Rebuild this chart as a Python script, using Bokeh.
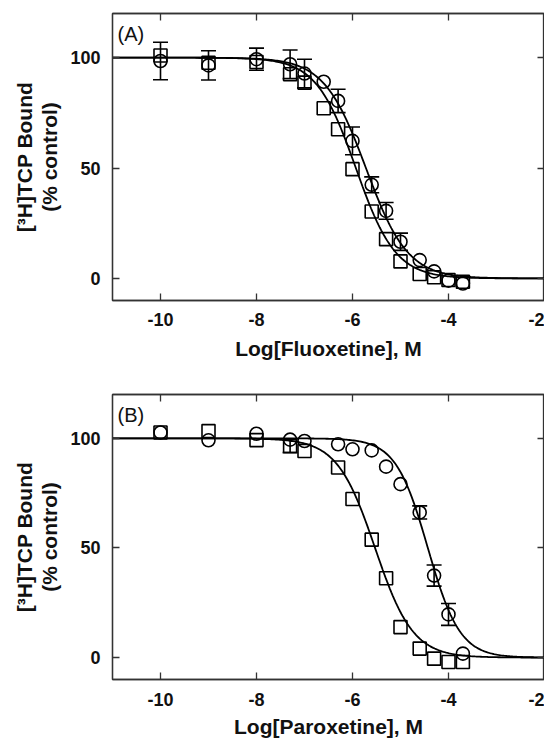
import numpy as np
from bokeh.plotting import figure
from bokeh.layouts import column
from bokeh.models import (ColumnDataSource, Whisker, Label, LinearAxis, FixedTicker,
                          Range1d, TeeHead)
from bokeh.embed import file_html
from bokeh.resources import INLINE

# ---------------- data ----------------
x_ticks = [-10, -8, -6, -4, -2]
x_tick_labels = ["-10", "-8", "-6", "-4", "-2"]
y_ticks = [0, 50, 100]
y_tick_labels = ["0", "50", "100"]

# Panel A: Fluoxetine
fluox_x = [-10, -9, -8, -7.3, -7, -6.6, -6.3, -6, -5.6, -5.3, -5, -4.6, -4.3, -4, -3.7]
fluox_sq = [101, 97.7, 98, 92.5, 88.7, 77.1, 67.6, 49.5, 30.3, 17.8, 7.7, 2.0, 0.5, -0.7, -1.5]
fluox_sq_err = [0, 0, 0, 0, 0, 0, 0, 0, 0, 0, 0, 0, 0, 0, 0]
fluox_ci = [98.5, 96.5, 99.3, 97, 92.8, 89.1, 80.4, 62.3, 42.4, 30.6, 16.6, 8.3, 3.2, -1.0, -2.3]
fluox_ci_err = [8.5, 6.6, 5, 6.5, 6.5, 0, 5.3, 6.3, 3.6, 3.8, 3.9, 0, 0, 0, 0]
# fitted curve parameters (log IC50, Hill slope)
fluox_sq_fit = (-5.93, 1.05)
fluox_ci_fit = (-5.72, 1.0)

# Panel B: Paroxetine
parox_x = [-10, -9, -8, -7.3, -7, -6.3, -6, -5.6, -5.3, -5, -4.6, -4.3, -4, -3.7]
parox_sq = [102.7, 103.3, 99.2, 96.5, 94.2, 86.7, 72.3, 53.8, 36.2, 13.9, 4.1, -0.5, -2.0, -2.0]
parox_sq_err = [0, 0, 0, 3, 0, 0, 0, 0, 0, 0, 0, 0, 0, 0]
parox_ci = [102.7, 99.1, 102.1, 99.4, 98.8, 97.3, 95.0, 94.5, 87.1, 79.1, 66.2, 37.4, 19.7, 1.8]
parox_ci_err = [0, 0, 0, 0, 0, 0, 0, 0, 0, 0, 3, 4.8, 5, 0]
parox_sq_fit = (-5.53, 1.1)
parox_ci_fit = (-4.43, 1.3)

FIT_TOP, FIT_BOTTOM = 100.0, 0.0

X_START, X_END = -11.0, -2.0
Y_START, Y_END = -10.0, 120.0

FONT = "Liberation Sans"
AXIS_COLOR = "#333333"
TEXT_COLOR = "#111111"


def hill(x, log_ic50, slope):
    x = np.asarray(x)
    return FIT_BOTTOM + (FIT_TOP - FIT_BOTTOM) / (1.0 + 10 ** (slope * (x - log_ic50)))


def style_axis(ax, ticks, show_labels=True):
    ax.ticker = FixedTicker(ticks=ticks)
    ax.axis_line_color = AXIS_COLOR
    ax.axis_line_width = 1.3
    ax.major_tick_line_color = AXIS_COLOR
    ax.major_tick_line_width = 1.3
    ax.major_tick_in = 7
    ax.major_tick_out = 0
    ax.minor_tick_line_color = None
    if not show_labels:
        ax.major_label_text_color = None
        ax.major_label_text_font_size = "1px"
        ax.major_label_standoff = 0


def make_panel(tag, xlabel, xs, sq, sq_err, ci, ci_err, sq_fit, ci_fit,
               height, border_top, border_bottom, tick_standoff, title_standoff):
    p = figure(width=544, height=height, output_backend="svg", toolbar_location=None,
               x_range=Range1d(X_START, X_END), y_range=Range1d(Y_START, Y_END),
               min_border_left=112, min_border_right=0,
               min_border_top=border_top, min_border_bottom=border_bottom)
    p.background_fill_color = "white"
    p.border_fill_color = "white"
    p.outline_line_color = AXIS_COLOR
    p.outline_line_width = 1.3
    p.xgrid.visible = False
    p.ygrid.visible = False

    # bottom axis
    xa = p.xaxis[0]
    style_axis(xa, x_ticks)
    xa.major_label_overrides = dict(zip(x_ticks, x_tick_labels))
    xa.major_label_text_font = FONT
    xa.major_label_text_font_style = "bold"
    xa.major_label_text_font_size = "18px"
    xa.major_label_text_color = TEXT_COLOR
    xa.major_label_standoff = tick_standoff
    xa.axis_label = xlabel
    xa.axis_label_text_font = FONT
    xa.axis_label_text_font_style = "bold"
    xa.axis_label_text_font_size = "21px"
    xa.axis_label_text_color = TEXT_COLOR
    xa.axis_label_standoff = title_standoff

    # left axis (tick labels + second title line)
    ya = p.yaxis[0]
    style_axis(ya, y_ticks)
    ya.major_label_overrides = dict(zip(y_ticks, y_tick_labels))
    ya.major_label_text_font = FONT
    ya.major_label_text_font_style = "bold"
    ya.major_label_text_font_size = "18px"
    ya.major_label_text_color = TEXT_COLOR
    ya.major_label_standoff = 12
    ya.axis_label = "(% control)"
    ya.axis_label_text_font = FONT
    ya.axis_label_text_font_style = "bold"
    ya.axis_label_text_font_size = "21px"
    ya.axis_label_text_color = TEXT_COLOR
    ya.axis_label_standoff = 6

    # outer left axis carrying only the first title line
    ya2 = LinearAxis(ticker=FixedTicker(ticks=[]), axis_line_color=None,
                     major_tick_line_color=None, minor_tick_line_color=None,
                     major_label_text_color=None, major_label_text_font_size="1px",
                     major_label_standoff=0,
                     axis_label="[³H]TCP Bound", axis_label_text_font=FONT,
                     axis_label_text_font_style="bold", axis_label_text_font_size="21px",
                     axis_label_text_color=TEXT_COLOR, axis_label_standoff=0)
    p.add_layout(ya2, "left")

    # mirrored axes (top / right) with inward ticks
    top = LinearAxis()
    style_axis(top, x_ticks, show_labels=False)
    p.add_layout(top, "above")
    right = LinearAxis()
    style_axis(right, y_ticks, show_labels=False)
    p.add_layout(right, "right")

    # fitted curves
    xc = np.linspace(X_START, X_END, 300)
    p.line(xc, hill(xc, *sq_fit), line_color="black", line_width=1.8)
    p.line(xc, hill(xc, *ci_fit), line_color="black", line_width=1.8)

    # error bars (only where an error is visible)
    for ys, es in ((sq, sq_err), (ci, ci_err)):
        bx = [x for x, e in zip(xs, es) if e > 0]
        by = [y for y, e in zip(ys, es) if e > 0]
        be = [e for e in es if e > 0]
        if bx:
            src = ColumnDataSource(dict(x=bx, upper=[y + e for y, e in zip(by, be)],
                                        lower=[y - e for y, e in zip(by, be)]))
            p.add_layout(Whisker(base="x", upper="upper", lower="lower", source=src,
                                 dimension="height", line_color="black", line_width=1.6,
                                 upper_head=TeeHead(size=15, line_width=1.6, line_color="black"),
                                 lower_head=TeeHead(size=15, line_width=1.6, line_color="black")))

    # markers (open squares and circles)
    p.scatter(xs, sq, marker="square", size=13, fill_alpha=0, line_color="black", line_width=1.6)
    p.scatter(xs, ci, marker="circle", size=13, fill_alpha=0, line_color="black", line_width=1.6)

    # panel tag
    p.add_layout(Label(x=X_START, y=Y_END, x_offset=5, y_offset=-9, text=tag,
                       text_font=FONT, text_font_size="20px", text_color=TEXT_COLOR,
                       text_align="left", text_baseline="top"))
    return p


pa = make_panel("(A)", "Log[Fluoxetine], M", fluox_x, fluox_sq, fluox_sq_err,
                fluox_ci, fluox_ci_err, fluox_sq_fit, fluox_ci_fit,
                height=364, border_top=13, border_bottom=64,
                tick_standoff=12, title_standoff=8)
pb = make_panel("(B)", "Log[Paroxetine], M", parox_x, parox_sq, parox_sq_err,
                parox_ci, parox_ci_err, parox_sq_fit, parox_ci_fit,
                height=376, border_top=30, border_bottom=60,
                tick_standoff=13, title_standoff=6)

layout = column(pa, pb, spacing=0)
open("out.html", "w").write(file_html(layout, INLINE))
